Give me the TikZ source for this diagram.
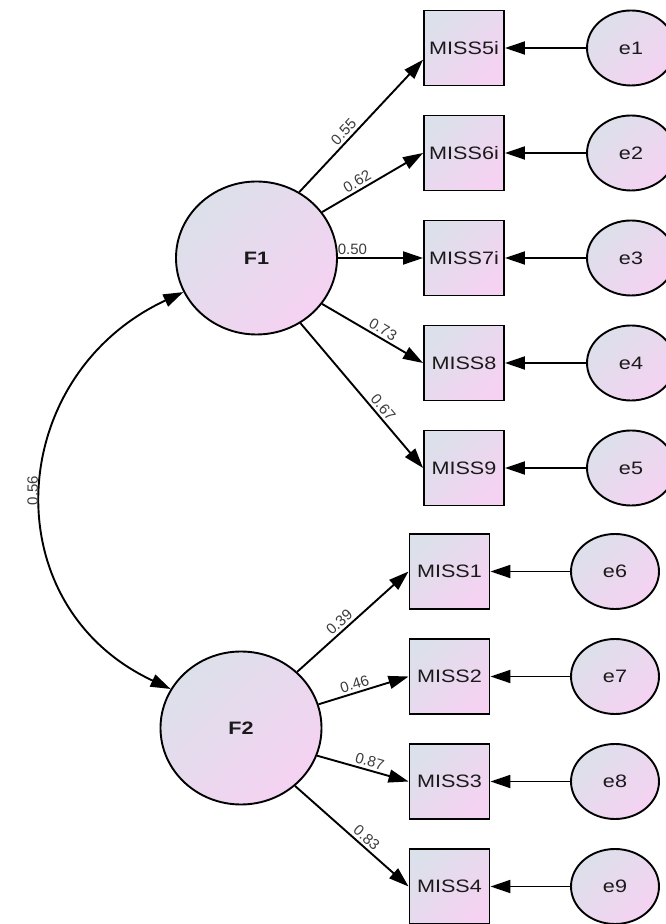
\documentclass[tikz,border=0pt]{standalone}
\usepackage{fontspec}
\newfontfamily\semfont[FakeStretch=1.2]{Liberation Sans}
\newfontfamily\semlblfont{Liberation Sans}
\usepackage{tikz}
\usetikzlibrary{arrows.meta}
\usetikzlibrary{shapes.geometric}
\usetikzlibrary{positioning}
\definecolor{semblue}{HTML}{DCE0EA}
\definecolor{sempink}{HTML}{F5D2F2}
\definecolor{semtext}{HTML}{1A1A1A}
\tikzset{
    latent/.style={
           ellipse,
           draw=black, line width=1.9pt,
           top color=semblue, bottom color=sempink, shading angle=45,
           minimum width=161pt, minimum height=153pt,
           inner sep=0pt,
           text=semtext,
           font=\semfont\bfseries\fontsize{18}{18}\selectfont,
           },
    observed/.style={
           rectangle,
           draw=black, line width=1.9pt,
           top color=semblue, bottom color=sempink, shading angle=45,
           minimum width=80pt, minimum height=75pt,
           inner sep=0pt,
           text=semtext,
           font=\semfont\fontsize{18}{18}\selectfont,
           },
    error/.style={
           ellipse,
           draw=black, line width=1.9pt,
           top color=semblue, bottom color=sempink, shading angle=45,
           minimum width=88pt, minimum height=75pt,
           inner sep=0pt,
           text=semtext,
           font=\semfont\fontsize{18}{18}\selectfont,
           },
    path/.style={->, line width=1.9pt},
    lbl/.style={
           sloped, above,
           inner sep=2.5pt,
           text=semtext!85,
           font=\semlblfont\fontsize{15}{15}\selectfont,
           },
}
\begin{document}
\begin{tikzpicture}[x=1pt,y=1pt,>={Triangle[length=20pt,width=13pt]},node distance=105pt]

 % page size of the reference
 \useasboundingbox (0,0) rectangle (665,924);

 % the two factors
 \node[latent] (F1) at (256.5,666) {F1};
 \node[latent] (F2) at (241,196) {F2};

 % items of F1, one under the other
 \node[observed] (m5) at (464,876) {MISS5i};
 \node[observed, below of=m5] (m6) {MISS6i};
 \node[observed, below of=m6] (m7) {MISS7i};
 \node[observed, below of=m7] (m8) {MISS8};
 \node[observed, below of=m8] (m9) {MISS9};

 % items of F2
 \node[observed] (m1) at (449.5,352.5) {MISS1};
 \node[observed, below of=m1] (m2) {MISS2};
 \node[observed, below of=m2] (m3) {MISS3};
 \node[observed, below of=m3] (m4) {MISS4};

 % error terms, right of each item
 \node[error, right of=m5, node distance=167pt] (e1) {e1};
 \node[error, right of=m6, node distance=167pt] (e2) {e2};
 \node[error, right of=m7, node distance=167pt] (e3) {e3};
 \node[error, right of=m8, node distance=167pt] (e4) {e4};
 \node[error, right of=m9, node distance=167pt] (e5) {e5};
 \node[error, right of=m1, node distance=165.5pt] (e6) {e6};
 \node[error, right of=m2, node distance=165.5pt] (e7) {e7};
 \node[error, right of=m3, node distance=165.5pt] (e8) {e8};
 \node[error, right of=m4, node distance=165.5pt] (e9) {e9};

 % loadings with their weights
 \draw[path] (F1.57)  -- node[lbl, pos=0.41] {0.55} (m5.196);
 \draw[path] (F1.35)  -- node[lbl, pos=0.39] {0.62} (m6.west);
 \draw[path] (F1.east) -- node[lbl, pos=0.17] {0.50} (m7.west);
 \draw[path] (F1.-35) -- node[lbl, pos=0.56] {0.73} (m8.west);
 \draw[path] (F1.-56) -- node[lbl, pos=0.62] {0.67} (m9.west);
 \draw[path] (F2.45)  -- node[lbl, pos=0.43] {0.39} (m1.west);
 \draw[path] (F2.17)  -- node[lbl, pos=0.43] {0.46} (m2.west);
 \draw[path] (F2.-20) -- node[lbl, pos=0.55] {0.87} (m3.west);
 \draw[path] (F2.-47) -- node[lbl, pos=0.58] {0.83} (m4.west);

 % errors into items
 \draw[path] (e1) -- (m5);
 \draw[path] (e2) -- (m6);
 \draw[path] (e3) -- (m7);
 \draw[path] (e4) -- (m8);
 \draw[path] (e5) -- (m9);
 \draw[path] (e6) -- (m1);
 \draw[path] (e7) -- (m2);
 \draw[path] (e8) -- (m3);
 \draw[path] (e9) -- (m4);

 % covariance of the factors
 \draw[path, <->] (F1.205) to[out=205, in=155, looseness=1.27]
   node[pos=0.5, above, rotate=90, inner sep=4pt, text=semtext!85,
        font=\semlblfont\fontsize{15}{15}\selectfont] {0.56} (F2.151);

\end{tikzpicture}
\end{document}
